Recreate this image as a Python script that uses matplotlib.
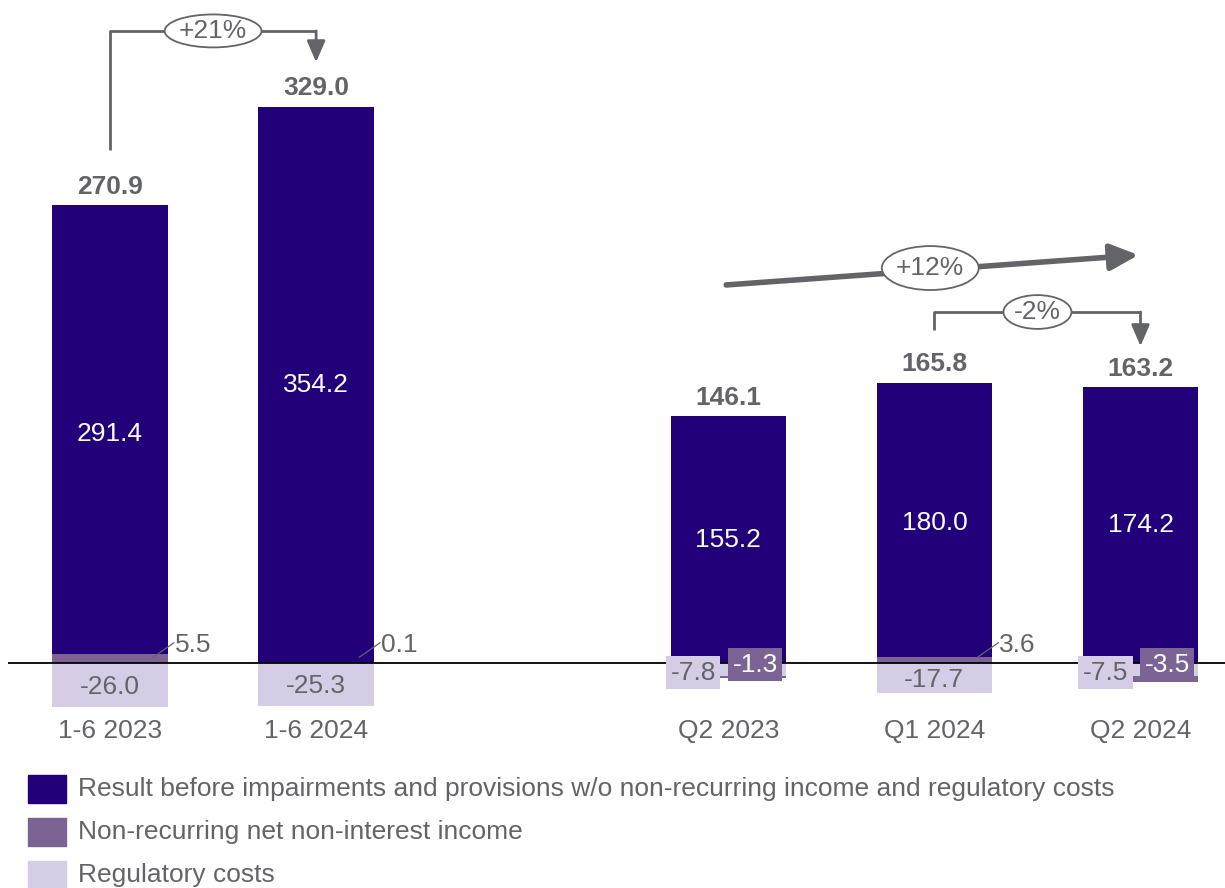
import matplotlib.pyplot as plt
from matplotlib.patches import Ellipse, Rectangle

plt.rcParams['font.family'] = ['Liberation Sans', 'DejaVu Sans']

categories = ['1-6 2023', '1-6 2024', 'Q2 2023', 'Q1 2024', 'Q2 2024']
positions = [0, 1, 3, 4, 5]
result_core = [291.4, 354.2, 155.2, 180.0, 174.2]
non_recurring = [5.5, 0.1, -1.3, 3.6, -3.5]
regulatory = [-26.0, -25.3, -7.8, -17.7, -7.5]
totals = [270.9, 329.0, 146.1, 165.8, 163.2]

legend_labels = ['Result before impairments and provisions w/o non-recurring income and regulatory costs',
                 'Non-recurring net non-interest income',
                 'Regulatory costs']

DARK = '#22007a'
MID = '#7b6494'
LIGHT = '#d5cde5'
GREY = '#636468'
FS = 19

fig = plt.figure(figsize=(12.25, 8.88), dpi=100)
ax = fig.add_axes([8 / 1225, 168 / 888, 1 - 8 / 1225, 720 / 888])
ax.set_xlim(-0.495, 5.41)
ax.set_ylim(-33.7, 392.3)
ax.axis('off')

w = 0.56
for x, core, nr, reg, tot in zip(positions, result_core, non_recurring, regulatory, totals):
    # core result stacked so its top lands on the total
    ax.bar(x, core, bottom=tot - core, width=w, color=DARK, zorder=2)
    ax.bar(x, reg, bottom=0, width=w, color=LIGHT, zorder=3)
    if nr >= 0:
        ax.bar(x, nr, bottom=0, width=w, color=MID, zorder=3)
    else:
        ax.bar(x, nr, bottom=reg, width=w, color=MID, zorder=3)
    ax.text(x, tot / 2, f'{core:.1f}', color='white', fontsize=FS, ha='center', va='center', zorder=5)
    ax.text(x, tot + 11, f'{tot:.1f}', color=GREY, fontsize=FS, fontweight='bold',
            ha='center', va='center', zorder=5)
    ax.text(x, -40.2, categories[positions.index(x)], color=GREY, fontsize=FS,
            ha='center', va='center', clip_on=False)

    if nr >= 0:
        # regulatory label inside its bar, non-recurring label with a leader line
        ax.text(x, reg / 2 - 1, f'{reg:.1f}', color=GREY, fontsize=FS, ha='center', va='center', zorder=5)
        ax.plot([x + 0.21, x + 0.31], [3.5, 12], color=GREY, lw=0.9, zorder=5)
        ax.text(x + 0.315, 10.5, f'{nr:.1f}', color=GREY, fontsize=FS, ha='left', va='center', zorder=5)
    else:
        ax.text(x - 0.17, -5.8, f'{reg:.1f}', color=GREY, fontsize=FS, ha='center', va='center', zorder=6,
                bbox=dict(boxstyle='square,pad=0.17', fc=LIGHT, ec='none'))
        ax.text(x + 0.13, -1.0, f'{nr:.1f}', color='white', fontsize=FS, ha='center', va='center', zorder=6,
                bbox=dict(boxstyle='square,pad=0.17', fc=MID, ec='none'))

ax.axhline(0, color='black', lw=1.3, zorder=4)

arrow_kw = dict(arrowstyle='-|>,head_length=0.65,head_width=0.28', color=GREY, lw=2,
                shrinkA=0, shrinkB=0, mutation_scale=20)


def bracket(x0, x1, y0, ytop, y1, label, ew, eh):
    ax.plot([x0, x0, x1], [y0, ytop, ytop], color=GREY, lw=2, solid_capstyle='butt', clip_on=False)
    ax.annotate('', xy=(x1, y1), xytext=(x1, ytop), arrowprops=arrow_kw, annotation_clip=False)
    xm = (x0 + x1) / 2
    ax.add_patch(Ellipse((xm, ytop), ew, eh, fc='white', ec=GREY, lw=1.3, zorder=6))
    ax.text(xm, ytop, label, color=GREY, fontsize=FS, ha='center', va='center', zorder=7)


bracket(0, 1, 303.6, 374.0, 355.5, '+21%', 0.47, 19.5)
bracket(4, 5, 197.0, 207.7, 187.5, '-2%', 0.33, 20.0)

# overall quarter-on-quarter trend
ax.annotate('', xy=(4.99, 241.4), xytext=(2.99, 223.7),
            arrowprops=dict(arrowstyle='-|>,head_length=0.85,head_width=0.4', color=GREY, lw=4,
                            shrinkA=0, shrinkB=0, mutation_scale=20))
ax.add_patch(Ellipse((3.98, 233.7), 0.47, 26, fc='white', ec=GREY, lw=1.3, zorder=6))
ax.text(3.98, 233.7, '+12%', color=GREY, fontsize=FS, ha='center', va='center', zorder=7)

# legend
for i, (lab, col) in enumerate(zip(legend_labels, [DARK, MID, LIGHT])):
    yc = 789 + 43 * i
    fig.add_artist(Rectangle((28 / 1225, 1 - (yc + 14) / 888), 38 / 1225, 28 / 888,
                             transform=fig.transFigure, color=col))
    fig.text(78 / 1225, 1 - yc / 888, lab, color=GREY, fontsize=FS, ha='left', va='center')

fig.savefig('out.png', dpi=100)
